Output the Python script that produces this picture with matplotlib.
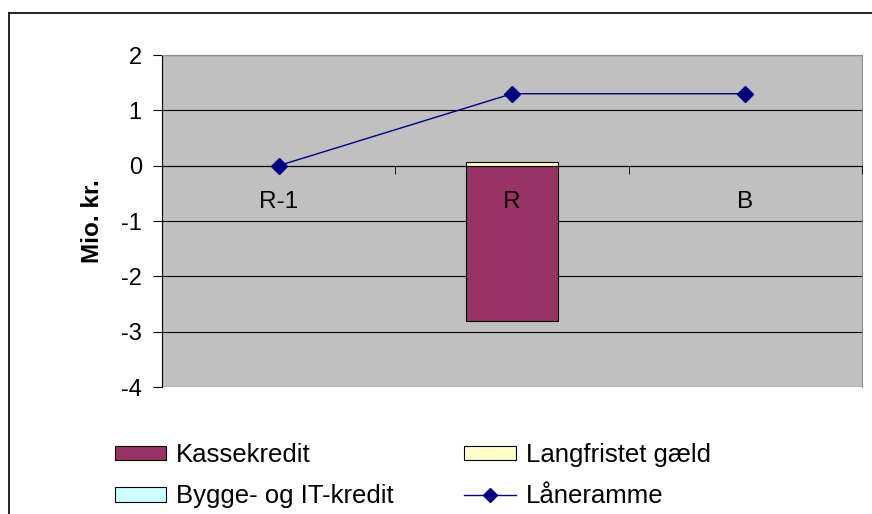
import numpy as np
import matplotlib
matplotlib.use("Agg")
import matplotlib.pyplot as plt
from matplotlib.patches import Patch, Rectangle
from matplotlib.lines import Line2D

plt.rcParams["font.family"] = ["Liberation Sans", "DejaVu Sans"]

CATEGORIES = ["R-1", "R", "B"]
KASSEKREDIT = [0.0, -2.8, 0.0]
LANGFRISTET = [0.0, 0.07, 0.0]
BYGGE_IT    = [0.0, 0.0, 0.0]
LANERAMME   = [0.0, 1.3, 1.3]
Y_TICKS     = [-4, -3, -2, -1, 0, 1, 2]

FS = 17.5
W, H = 872, 514
fig = plt.figure(figsize=(W / 100, H / 100), dpi=100)
fig.patch.set_facecolor("white")

# ramme om hele diagrammet
fig.add_artist(Line2D([9 / W, 9 / W], [0, 1 - 13 / H], color="black", lw=1.2))
fig.add_artist(Line2D([9 / W, 1], [1 - 13 / H, 1 - 13 / H], color="black", lw=1.2))

ax = fig.add_axes([162 / W, 1 - 387 / H, 700 / W, 332 / H])
ax.set_facecolor("#C0C0C0")
x = np.arange(len(CATEGORIES))

ax.set_ylim(-4, 2)
ax.set_xlim(-0.5, 2.5)
ax.set_yticks(Y_TICKS)
ax.set_yticklabels([str(v) for v in Y_TICKS])
ax.yaxis.grid(True, color="black", lw=0.8)
ax.set_axisbelow(True)


def edge_w(vals):
    # ingen kant paa tomme stolper
    return [0.8 if v != 0 else 0 for v in vals]


bw = 0.395
ax.bar(x, KASSEKREDIT, bw, color="#993366", edgecolor="black", lw=edge_w(KASSEKREDIT), zorder=3)
ax.bar(x, LANGFRISTET, bw, color="#FFFFCC", edgecolor="black", lw=edge_w(LANGFRISTET), zorder=3)
ax.bar(x, BYGGE_IT, bw, bottom=LANGFRISTET, color="#CCFFFF", edgecolor="black",
       lw=edge_w(BYGGE_IT), zorder=3)
ax.plot(x, LANERAMME, color="#000080", lw=1.0, marker="D", ms=8, zorder=4)

for s in ["top", "right"]:
    ax.spines[s].set_color("#909090")
ax.spines["left"].set_color("black")
ax.spines["bottom"].set_position(("data", 0))
ax.spines["bottom"].set_color("black")
ax.spines["bottom"].set_linewidth(0.8)
ax.add_patch(Rectangle((0, 0), 1, 1, transform=ax.transAxes, fill=False,
                       edgecolor="#909090", lw=0.8, zorder=1))

ax.set_xticks(x)
ax.set_xticklabels(CATEGORIES, fontsize=FS)
ax.set_xticks([-0.5, 0.5, 1.5, 2.5], minor=True)
ax.tick_params(axis="x", which="major", length=0, pad=18)
ax.tick_params(axis="x", which="minor", length=6, direction="out", color="black")
ax.tick_params(axis="y", length=6.5, direction="out", labelsize=17, pad=8)
ax.xaxis.set_zorder(5)
ax.set_ylabel("Mio. kr.", fontsize=FS, fontweight="bold", labelpad=12)

handles = [
    Patch(facecolor="#993366", edgecolor="black", lw=0.8, label="Kassekredit"),
    Patch(facecolor="#CCFFFF", edgecolor="black", lw=0.8, label="Bygge- og IT-kredit"),
    Patch(facecolor="#FFFFCC", edgecolor="black", lw=0.8, label="Langfristet gæld"),
    Line2D([0], [0], color="#000080", lw=1.0, marker="D", ms=7.5, label="Låneramme"),
]
LFS = 18.5
fig.legend(handles=handles, ncol=2, loc="upper left", bbox_to_anchor=(115 / W, 1 - 443 / H),
           frameon=False, fontsize=LFS, borderpad=0, borderaxespad=0, handlelength=2.0,
           handleheight=0.5, handletextpad=0.38, columnspacing=2.75, labelspacing=0.68)

plt.savefig("out.png", dpi=100)
plt.close()
